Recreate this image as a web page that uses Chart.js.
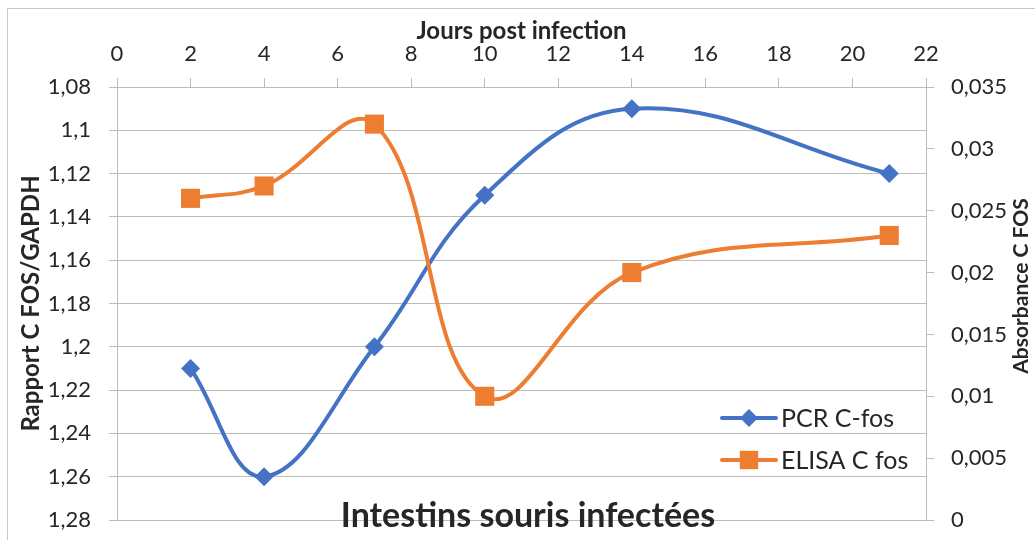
<!DOCTYPE html>
<html>
<head>
<meta charset="utf-8">
<script src="https://cdn.jsdelivr.net/npm/chart.js@4"></script>
<style>
  body { margin: 0; background: #fff; }
  #wrap { width: 1035px; height: 540px; }
</style>
</head>
<body>
<div id="wrap"><canvas id="fosChart" width="1035" height="540"></canvas></div>
<script>
// jours post infection
const days = [2, 4, 7, 10, 14, 21];
// rapport C FOS/GAPDH (axe gauche, inversé)
const pcrValues = [1.21, 1.26, 1.20, 1.13, 1.09, 1.12];
// absorbance C FOS (axe droit)
const elisaValues = [0.026, 0.027, 0.032, 0.010, 0.020, 0.023];

const seriesNames = ['PCR C-fos', 'ELISA C fos'];
const xTitle = 'Jours post infection';
const leftTitle = 'Rapport C FOS/GAPDH';
const rightTitle = 'Absorbance C FOS';
const chartTitle = 'Intestins souris infectées';

const FONT = 'Lato, "Open Sans", sans-serif';
const BLUE = '#4472C4';
const ORANGE = '#ED7D31';
const GRID = '#bcbcbc';
const TEXT = '#262626';

const toPoints = (ys) => days.map((d, i) => ({ x: d, y: ys[i] }));
const comma = (v, p) => String(Math.round(v * p) / p).replace('.', ',');

// cadre, titre du bas, titre de droite, légende
const extras = {
    id: 'extras',
    beforeDraw(chart) {
        const ctx = chart.ctx;
        ctx.save();
        ctx.strokeStyle = '#c8c8c8';
        ctx.lineWidth = 1;
        ctx.strokeRect(7.5, 8.5, 1100, 600);
        ctx.restore();
    },
    afterDraw(chart) {
        const ctx = chart.ctx;
        ctx.save();

        // titre vertical droite (lu de bas en haut)
        ctx.fillStyle = TEXT;
        ctx.font = 'bold 21px ' + FONT;
        ctx.textAlign = 'center';
        ctx.textBaseline = 'middle';
        ctx.translate(1021, 286);
        ctx.rotate(-Math.PI / 2);
        ctx.fillText(rightTitle, 0, 0);
        ctx.setTransform(1, 0, 0, 1, 0, 0);

        // titre en bas sur l'axe
        ctx.font = 'bold 34px ' + FONT;
        ctx.textAlign = 'center';
        ctx.textBaseline = 'alphabetic';
        ctx.fillText(chartTitle, 528, 527);

        // légende
        const items = [
            { label: seriesNames[0], color: BLUE, style: 'rectRot', r: 9, y: 418 },
            { label: seriesNames[1], color: ORANGE, style: 'rect', r: 13, y: 460 }
        ];
        items.forEach(it => {
            ctx.strokeStyle = it.color;
            ctx.lineWidth = 4;
            ctx.lineCap = 'round';
            ctx.beginPath();
            ctx.moveTo(722, it.y);
            ctx.lineTo(776, it.y);
            ctx.stroke();
            ctx.fillStyle = it.color;
            Chart.helpers.drawPoint(ctx, { pointStyle: it.style, radius: it.r, borderWidth: 0 }, 749, it.y);
            ctx.fillStyle = TEXT;
            ctx.font = '25px ' + FONT;
            ctx.textAlign = 'left';
            ctx.textBaseline = 'middle';
            ctx.fillText(it.label, 781, it.y + 1);
        });
        ctx.restore();
    }
};

const fitY = (w) => (scale) => {
    scale.width = w;
    scale.paddingTop = 0;
    scale.paddingBottom = 0;
};

const ctx = document.getElementById('fosChart').getContext('2d');
new Chart(ctx, {
    type: 'line',
    data: {
        datasets: [
            {
                label: seriesNames[0],
                data: toPoints(pcrValues),
                yAxisID: 'yLeft',
                borderColor: BLUE,
                backgroundColor: BLUE,
                borderWidth: 4,
                tension: 0.4,
                pointStyle: 'rectRot',
                pointRadius: 9.5,
                pointBorderWidth: 0,
                order: 1
            },
            {
                label: seriesNames[1],
                data: toPoints(elisaValues),
                yAxisID: 'yRight',
                borderColor: ORANGE,
                backgroundColor: ORANGE,
                borderWidth: 4,
                tension: 0.4,
                pointStyle: 'rect',
                pointRadius: 13.5,
                pointBorderWidth: 0,
                order: 0
            }
        ]
    },
    options: {
        responsive: false,
        animation: false,
        layout: { padding: { top: 0, left: 0, right: 0, bottom: 20 } },
        plugins: {
            legend: { display: false },
            tooltip: { enabled: false }
        },
        scales: {
            x: {
                type: 'linear',
                position: 'top',
                min: 0,
                max: 22,
                ticks: { stepSize: 2, color: TEXT, padding: 11, font: { family: FONT, size: 22 } },
                grid: { drawOnChartArea: false, color: GRID, tickLength: 9 },
                border: { display: false },
                title: { display: true, text: xTitle, color: TEXT, padding: { top: 17, bottom: 0 }, font: { family: FONT, size: 24, weight: 'bold' } },
                afterFit(scale) { scale.height = 87; }
            },
            yLeft: {
                position: 'left',
                reverse: true,
                min: 1.08,
                max: 1.28,
                ticks: { stepSize: 0.02, color: TEXT, padding: 18, font: { family: FONT, size: 22 }, callback: v => comma(v, 100) },
                grid: { color: GRID, tickLength: 8 },
                border: { color: GRID },
                title: { display: true, text: leftTitle, color: TEXT, padding: { top: 17, bottom: 0 }, font: { family: FONT, size: 24, weight: 'bold' } },
                afterFit: fitY(117)
            },
            yRight: {
                position: 'right',
                min: 0,
                max: 0.035,
                ticks: { stepSize: 0.005, color: TEXT, padding: 17, font: { family: FONT, size: 22 }, callback: v => comma(v, 1000) },
                grid: { drawOnChartArea: false, color: GRID, tickLength: 8 },
                border: { color: GRID },
                afterFit: fitY(109)
            }
        }
    },
    plugins: [extras]
});
</script>
</body>
</html>
